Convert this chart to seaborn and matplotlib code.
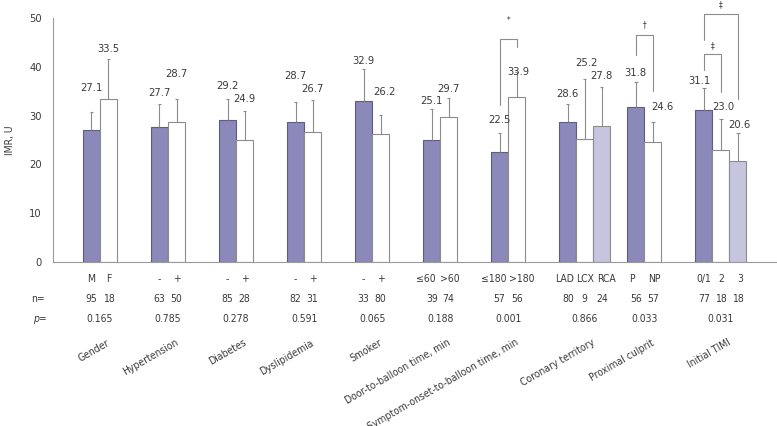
import numpy as np
import pandas as pd
import matplotlib
matplotlib.use("Agg")
import matplotlib.pyplot as plt
import seaborn as sns

# ---- data ----
groups = ["Gender", "Hypertension", "Diabetes", "Dyslipidemia", "Smoker",
          "Door-to-balloon time, min", "Symptom-onset-to-balloon time, min",
          "Coronary territory", "Proximal culprit", "Initial TIMI"]
levels = [["M", "F"], ["-", "+"], ["-", "+"], ["-", "+"], ["-", "+"],
          ["≤60", ">60"], ["≤180", ">180"], ["LAD", "LCX", "RCA"],
          ["P", "NP"], ["0/1", "2", "3"]]
imr_mean = [[27.1, 33.5], [27.7, 28.7], [29.2, 24.9], [28.7, 26.7], [32.9, 26.2],
            [25.1, 29.7], [22.5, 33.9], [28.6, 25.2, 27.8], [31.8, 24.6],
            [31.1, 23.0, 20.6]]
imr_err = [[3.7, 8.2], [4.6, 4.8], [4.1, 6.0], [4.0, 6.5], [6.6, 3.9],
           [6.3, 4.0], [3.9, 5.0], [3.7, 12.4, 8.1], [5.0, 4.1],
           [4.5, 6.4, 5.8]]
n_counts = [[95, 18], [63, 50], [85, 28], [82, 31], [33, 80], [39, 74],
            [57, 56], [80, 9, 24], [56, 57], [77, 18, 18]]
p_values = ["0.165", "0.785", "0.278", "0.591", "0.065", "0.188", "0.001",
            "0.866", "0.033", "0.031"]

# ---- layout (label heights, offsets, brackets) ----
label_y = [[35.7, 43.6], [34.6, 38.5], [36.1, 33.4], [38.1, 35.4], [41.2, 34.8],
           [32.9, 35.5], [29.1, 39.0], [34.4, 40.8, 38.1], [38.7, 31.8],
           [37.1, 31.8, 28.1]]
label_dx = [[0, 0], [0, 0], [0, 0], [0, 0], [0, 0.05], [0, 0], [0, 0.02],
            [0, 0.02, 0], [0, 0.14], [-0.06, 0.03, 0.02]]
level_dx = [[0, 0], [0, 0], [0, 0], [0, 0], [0, 0], [-0.08, 0.02],
            [-0.09, 0.08], [-0.05, 0, 0.07], [-0.05, 0.02], [0, 0, 0.03]]
# group, bar a, bar b, top, left foot, right foot, symbol, symbol y
brackets = [(6, 0, 1, 45.7, 32.2, 44.1, "*", 49.4),
            (8, 0, 1, 46.6, 42.5, 35.1, "†", 48.6),
            (9, 0, 1, 42.6, 39.3, 34.9, "‡", 44.3),
            (9, 0, 2, 50.8, 45.4, 33.4, "‡", 52.7)]

BW = 0.25
rows = []
for gi, g in enumerate(groups):
    for j, lv in enumerate(levels[gi]):
        rows.append({"group": g, "level": j, "pos": gi + BW / 2 + BW * j,
                     "imr": imr_mean[gi][j], "err": imr_err[gi][j]})
df = pd.DataFrame(rows)

sns.set_style("white")
plt.rcParams["font.family"] = ["DejaVu Sans"]
plt.rcParams["font.stretch"] = "condensed"
plt.rcParams["font.size"] = 7.5
txt = "#3a3a3a"
grey = "#8c8c8c"

fig = plt.figure(figsize=(7.77, 4.26), dpi=100)
ax = fig.add_axes([53 / 777, 164 / 426, 724 / 777, 244 / 426])

pal = {0: "#8b88ba", 1: "#ffffff", 2: "#c6c4df"}
sns.barplot(data=df, x="pos", y="imr", hue="level", palette=pal,
            native_scale=True, dodge=False, width=1.0, errorbar=None,
            saturation=1, legend=False, linewidth=0.8, edgecolor=grey,
            ax=ax, zorder=2)
for p in ax.patches:
    fc = p.get_facecolor()
    if fc[0] < 0.6:
        p.set_edgecolor("#5e5b86")

# upper error bars
ax.vlines(df["pos"], df["imr"], df["imr"] + df["err"], color=grey, lw=0.8, zorder=3)
ax.hlines(df["imr"] + df["err"], df["pos"] - 0.025, df["pos"] + 0.025,
          color=grey, lw=0.8, zorder=3)

# value labels
for gi in range(len(groups)):
    for j, v in enumerate(imr_mean[gi]):
        x = gi + BW / 2 + BW * j + label_dx[gi][j]
        ax.text(x, label_y[gi][j], f"{v:.1f}", ha="center", va="center",
                fontsize=8, color=txt, zorder=4)

# significance brackets
for gi, a, b, top, fa, fb, sym, sy in brackets:
    xa = gi + BW / 2 + BW * a
    xb = gi + BW / 2 + BW * b
    ax.plot([xa, xa, xb, xb], [fa, top, top, fb], color=grey, lw=0.8,
            clip_on=False, zorder=4)
    ax.text((xa + xb) / 2, sy, sym, ha="center", va="center", fontsize=6,
            color=txt, clip_on=False)

ax.set_xlim(-0.44, 10.2)
ax.set_ylim(0, 50)
ax.set_yticks(range(0, 51, 10))
ax.set_xticks([])
ax.set_xlabel("")
ax.set_ylabel("")
for s in ["top", "right"]:
    ax.spines[s].set_visible(False)
for s in ["left", "bottom"]:
    ax.spines[s].set_color("#9a9a9a")
    ax.spines[s].set_linewidth(0.8)
ax.tick_params(axis="y", direction="in", length=3, width=0.6, color="#9a9a9a",
               pad=8, labelsize=8, labelcolor=txt)

# table under the axis
tr = ax.get_xaxis_transform()
for gi, g in enumerate(groups):
    k = len(levels[gi])
    centers = [gi + BW / 2 + BW * j for j in range(k)]
    mid = centers[k // 2] if k % 2 else (centers[0] + centers[-1]) / 2
    for j in range(k):
        ax.text(centers[j] + level_dx[gi][j], -0.07, levels[gi][j], transform=tr,
                ha="center", va="center", color=txt, fontsize=7.5, clip_on=False)
        ax.text(centers[j], -0.152, str(n_counts[gi][j]), transform=tr,
                ha="center", va="center", color=txt, fontsize=7.5, clip_on=False)
    ax.text(mid, -0.234, p_values[gi], transform=tr, ha="center", va="center",
            color=txt, fontsize=7.5, clip_on=False)
    ax.text(mid + 0.1, -0.31, g, transform=tr, ha="right", va="top",
            rotation=30, rotation_mode="anchor", color=txt, fontsize=7.5,
            clip_on=False)

ax.text(-0.66, -0.152, "n=", transform=tr, ha="center", va="center",
        color=txt, fontsize=7.5, clip_on=False)
ax.text(-0.64, -0.234, "p=", transform=tr, ha="center", va="center",
        color=txt, fontsize=7.5, style="italic", clip_on=False)
fig.text(10 / 777, 1 - 140 / 426, "IMR, U", rotation=90, ha="center",
         va="center", color=txt, fontsize=7.5)

fig.savefig("out.png", dpi=100)
